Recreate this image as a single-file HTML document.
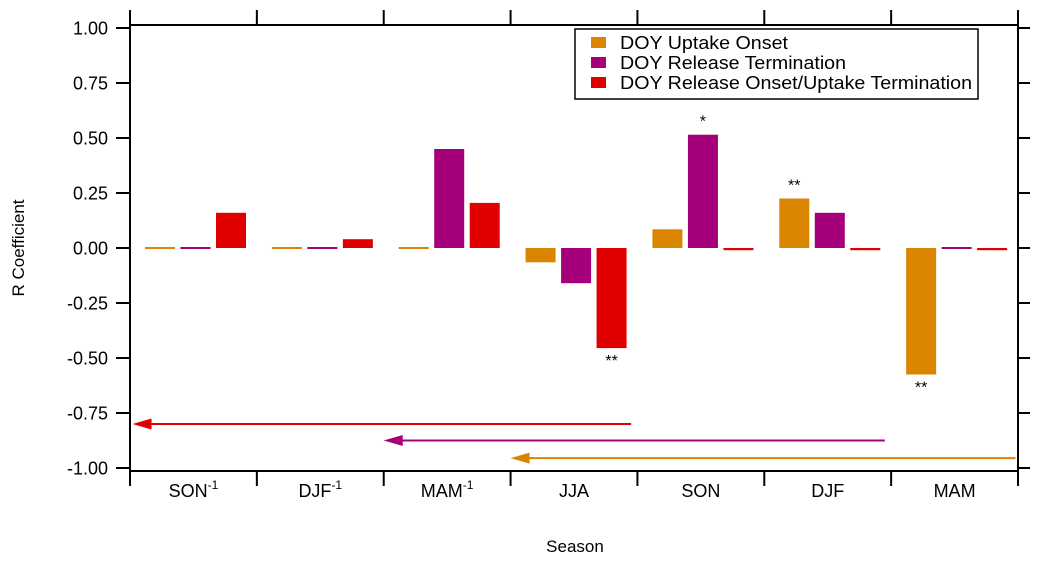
<!DOCTYPE html>
<html><head><meta charset="utf-8"><style>
body{margin:0;background:#fff;}
svg text{font-family:"Liberation Sans",Arial,sans-serif;fill:#000;}
</style></head><body>
<svg id="chart" width="1045" height="563" xmlns="http://www.w3.org/2000/svg">
<g id="axes"></g>
<g id="bars"></g>
<g id="arrows"></g>
<g id="stars"></g>
<text transform="translate(24,248) rotate(-90)" text-anchor="middle" font-size="17">R Coefficient</text>
<text x="575" y="552" text-anchor="middle" font-size="17">Season</text>
<g>
<rect x="575" y="29" width="403" height="70" fill="#fff" stroke="#000" stroke-width="1.5"/>
<rect x="591" y="37" width="15" height="11" fill="#d98500"/>
<text x="620" y="49" font-size="18" textLength="168" lengthAdjust="spacingAndGlyphs">DOY Uptake Onset</text>
<rect x="591" y="57" width="15" height="11" fill="#a5007a"/>
<text x="620" y="69" font-size="18" textLength="226" lengthAdjust="spacingAndGlyphs">DOY Release Termination</text>
<rect x="591" y="77" width="15" height="11" fill="#e00000"/>
<text x="620" y="89" font-size="18" textLength="352" lengthAdjust="spacingAndGlyphs">DOY Release Onset/Uptake Termination</text>
</g>
</svg>
<script>
const categories=["SON","DJF","MAM","JJA","SON","DJF","MAM"];
const catSup=["-1","-1","-1","","","",""];
const uptakeOnset=[0.003,0.003,0.003,-0.065,0.085,0.225,-0.575];
const releaseTerm=[0.003,0.003,0.45,-0.16,0.515,0.16,0.005];
const releaseOnset=[0.16,0.04,0.205,-0.455,-0.01,-0.01,-0.01];
const yTicks=[1.00,0.75,0.50,0.25,0.00,-0.25,-0.50,-0.75,-1.00];
const stars=[{cat:4,series:1,label:"*"},{cat:5,series:0,label:"**"},{cat:3,series:2,label:"**"},{cat:6,series:0,label:"**"}];
const arrowSeries=[{from:3.95,to:0.02,v:-0.80,c:"#e00000"},{from:5.95,to:2.0,v:-0.875,c:"#a5007a"},{from:6.98,to:3.0,v:-0.955,c:"#d98500"}];
const colors=["#d98500","#a5007a","#e00000"];
const series=[uptakeOnset,releaseTerm,releaseOnset];
const L=130,R=1018,T=25,B=471;
const step=(R-L)/categories.length;
const y=v=>248-v*220;
const xc=i=>L+i*step;
const NS="http://www.w3.org/2000/svg";
function mk(p,t,a){const e=document.createElementNS(NS,t);for(const k in a)e.setAttribute(k,a[k]);p.appendChild(e);return e;}
const ax=document.getElementById('axes');
const frame=mk(ax,'rect',{x:L,y:T,width:R-L,height:B-T,fill:'none',stroke:'#000','stroke-width':2});


yTicks.forEach(v=>{
 const t=mk(ax,'line',{x1:L-14,x2:L,y1:y(v),y2:y(v),stroke:'#000','stroke-width':2});
 
 
 const t2=mk(ax,'line',{x1:R,x2:R+12,y1:y(v),y2:y(v),stroke:'#000','stroke-width':2});
 
 
 const l=mk(ax,'text',{x:L-22,y:y(v)+6.5,'text-anchor':'end','font-size':18});
 l.textContent=v.toFixed(2);
 
 
});
for(let i=0;i<=categories.length;i++){
 const t=mk(ax,'line',{x1:xc(i),x2:xc(i),y1:B,y2:B+15,stroke:'#000','stroke-width':2});
 
 
 const t2=mk(ax,'line',{x1:xc(i),x2:xc(i),y1:T-15,y2:T,stroke:'#000','stroke-width':2});
 
 
}
categories.forEach((c,i)=>{
 const l=mk(ax,'text',{x:xc(i)+step/2,y:B+26,'text-anchor':'middle','font-size':18});
 l.textContent=c;
 if(catSup[i]){const s=mk(l,'tspan',{dy:-8,'font-size':12});s.textContent=catSup[i];}
 
 
});
const bg=document.getElementById('bars');
const offs=[15,50.5,86];
series.forEach((s,si)=>s.forEach((v,i)=>{
 const x0=xc(i)+offs[si];
 let y1=Math.min(y(v),y(0)),h=Math.abs(y(v)-y(0));
 if(h<2){h=2;y1=y(0)-1;}
 const r=mk(bg,'rect',{x:x0,y:y1,width:30,height:h,fill:colors[si]});
 
 
}));
const ar=document.getElementById('arrows');
arrowSeries.forEach(a=>{
 const x1=xc(a.from),x2=xc(a.to),yy=y(a.v);
 const ln=mk(ar,'line',{x1:x1,x2:x2+18,y1:yy,y2:yy,stroke:a.c,'stroke-width':2});
 
 
 const p=mk(ar,'polygon',{points:`${x2},${yy} ${x2+19},${yy-5.5} ${x2+19},${yy+5.5}`,fill:a.c});
 
 
});
const sg=document.getElementById('stars');
stars.forEach(s=>{
 const v=series[s.series][s.cat];
 const cx=xc(s.cat)+offs[s.series]+15;
 const yy=v>=0?y(v)-8:y(v)+18;
 const t=mk(sg,'text',{x:cx,y:yy,'text-anchor':'middle','font-size':16});
 t.textContent=s.label;
 
 
});
</script>
</body></html>
